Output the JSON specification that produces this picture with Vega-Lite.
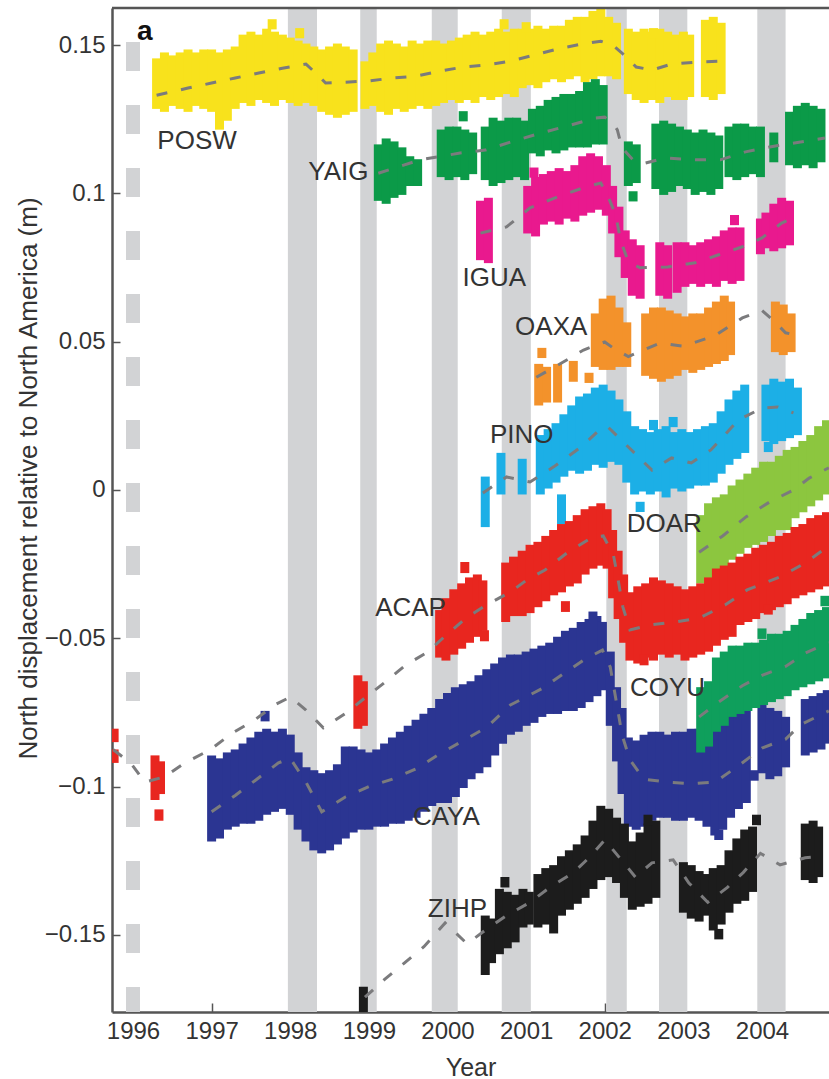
{
  "$schema": "https://vega.github.io/schema/vega-lite/v6.json",
  "width": 717,
  "height": 1004,
  "autosize": {"type": "none"},
  "padding": {"left": 112, "top": 8, "right": 0, "bottom": 67},
  "background": "white",
  "config": {"view": {"stroke": null}, "font": "Liberation Sans"},
  "datasets": {
    "bands": [
      {"start": 1997.97, "end": 1998.34},
      {"start": 1998.89, "end": 1999.10},
      {"start": 1999.80, "end": 2000.13},
      {"start": 2000.69, "end": 2001.06},
      {"start": 2002.02, "end": 2002.28},
      {"start": 2002.69, "end": 2003.05},
      {"start": 2003.94, "end": 2004.30}
    ],
    "cloud": [
      {"s":"POSW","t":1996.30,"lo":0.130,"hi":0.144},{"s":"POSW","t":1996.40,"lo":0.129,"hi":0.146},{"s":"POSW","t":1996.50,"lo":0.131,"hi":0.145},{"s":"POSW","t":1996.60,"lo":0.130,"hi":0.146},{"s":"POSW","t":1996.70,"lo":0.129,"hi":0.147},{"s":"POSW","t":1996.80,"lo":0.131,"hi":0.146},{"s":"POSW","t":1996.90,"lo":0.130,"hi":0.147},{"s":"POSW","t":1997.00,"lo":0.129,"hi":0.147},{"s":"POSW","t":1997.10,"lo":0.123,"hi":0.146},{"s":"POSW","t":1997.20,"lo":0.126,"hi":0.147},{"s":"POSW","t":1997.30,"lo":0.130,"hi":0.148},{"s":"POSW","t":1997.40,"lo":0.132,"hi":0.152},{"s":"POSW","t":1997.50,"lo":0.131,"hi":0.153},{"s":"POSW","t":1997.60,"lo":0.133,"hi":0.152},{"s":"POSW","t":1997.70,"lo":0.132,"hi":0.154},{"s":"POSW","t":1997.80,"lo":0.131,"hi":0.153},{"s":"POSW","t":1997.90,"lo":0.133,"hi":0.152},{"s":"POSW","t":1998.00,"lo":0.132,"hi":0.151},{"s":"POSW","t":1998.10,"lo":0.131,"hi":0.150},{"s":"POSW","t":1998.20,"lo":0.132,"hi":0.149},{"s":"POSW","t":1998.30,"lo":0.131,"hi":0.148},{"s":"POSW","t":1998.40,"lo":0.129,"hi":0.147},{"s":"POSW","t":1998.50,"lo":0.128,"hi":0.148},{"s":"POSW","t":1998.60,"lo":0.127,"hi":0.149},{"s":"POSW","t":1998.70,"lo":0.128,"hi":0.148},{"s":"POSW","t":1998.80,"lo":0.129,"hi":0.147},{"s":"POSW","t":1998.95,"lo":0.130,"hi":0.143},{"s":"POSW","t":1999.05,"lo":0.131,"hi":0.146},{"s":"POSW","t":1999.15,"lo":0.129,"hi":0.149},{"s":"POSW","t":1999.25,"lo":0.128,"hi":0.150},{"s":"POSW","t":1999.35,"lo":0.130,"hi":0.149},{"s":"POSW","t":1999.45,"lo":0.129,"hi":0.148},{"s":"POSW","t":1999.55,"lo":0.130,"hi":0.150},{"s":"POSW","t":1999.65,"lo":0.131,"hi":0.149},{"s":"POSW","t":1999.75,"lo":0.130,"hi":0.150},{"s":"POSW","t":1999.85,"lo":0.131,"hi":0.150},{"s":"POSW","t":1999.95,"lo":0.132,"hi":0.149},{"s":"POSW","t":2000.05,"lo":0.133,"hi":0.150},{"s":"POSW","t":2000.15,"lo":0.132,"hi":0.151},{"s":"POSW","t":2000.25,"lo":0.133,"hi":0.152},{"s":"POSW","t":2000.35,"lo":0.132,"hi":0.153},{"s":"POSW","t":2000.45,"lo":0.134,"hi":0.152},{"s":"POSW","t":2000.55,"lo":0.133,"hi":0.153},{"s":"POSW","t":2000.65,"lo":0.134,"hi":0.154},{"s":"POSW","t":2000.75,"lo":0.135,"hi":0.153},{"s":"POSW","t":2000.85,"lo":0.134,"hi":0.154},{"s":"POSW","t":2000.95,"lo":0.137,"hi":0.154},{"s":"POSW","t":2001.05,"lo":0.138,"hi":0.154},{"s":"POSW","t":2001.15,"lo":0.137,"hi":0.155},{"s":"POSW","t":2001.25,"lo":0.139,"hi":0.154},{"s":"POSW","t":2001.35,"lo":0.140,"hi":0.155},{"s":"POSW","t":2001.45,"lo":0.139,"hi":0.155},{"s":"POSW","t":2001.55,"lo":0.140,"hi":0.157},{"s":"POSW","t":2001.65,"lo":0.141,"hi":0.158},{"s":"POSW","t":2001.75,"lo":0.139,"hi":0.158},{"s":"POSW","t":2001.85,"lo":0.140,"hi":0.160},{"s":"POSW","t":2001.95,"lo":0.141,"hi":0.161},{"s":"POSW","t":2002.05,"lo":0.141,"hi":0.158},{"s":"POSW","t":2002.15,"lo":0.140,"hi":0.156},{"s":"POSW","t":2002.30,"lo":0.135,"hi":0.154},{"s":"POSW","t":2002.40,"lo":0.133,"hi":0.153},{"s":"POSW","t":2002.50,"lo":0.132,"hi":0.154},{"s":"POSW","t":2002.60,"lo":0.133,"hi":0.153},{"s":"POSW","t":2002.70,"lo":0.132,"hi":0.154},{"s":"POSW","t":2002.80,"lo":0.134,"hi":0.153},{"s":"POSW","t":2002.90,"lo":0.133,"hi":0.152},{"s":"POSW","t":2003.00,"lo":0.133,"hi":0.153},{"s":"POSW","t":2003.08,"lo":0.134,"hi":0.152},{"s":"POSW","t":2003.28,"lo":0.134,"hi":0.157},{"s":"POSW","t":2003.38,"lo":0.133,"hi":0.158},{"s":"POSW","t":2003.48,"lo":0.135,"hi":0.156},
      {"s":"POSW","t":1997.77,"lo":0.1568,"hi":0.1572},{"s":"POSW","t":1998.12,"lo":0.1538,"hi":0.1542},{"s":"POSW","t":2000.72,"lo":0.1568,"hi":0.1572},{"s":"POSW","t":2001.00,"lo":0.1558,"hi":0.1562},{"s":"POSW","t":2002.62,"lo":0.1538,"hi":0.1542},
      {"s":"YAIG","t":1999.12,"lo":0.099,"hi":0.115},{"s":"YAIG","t":1999.22,"lo":0.098,"hi":0.117},{"s":"YAIG","t":1999.32,"lo":0.100,"hi":0.116},{"s":"YAIG","t":1999.42,"lo":0.101,"hi":0.114},{"s":"YAIG","t":1999.52,"lo":0.104,"hi":0.111},{"s":"YAIG","t":1999.62,"lo":0.104,"hi":0.110},{"s":"YAIG","t":1999.92,"lo":0.107,"hi":0.120},{"s":"YAIG","t":2000.02,"lo":0.106,"hi":0.121},{"s":"YAIG","t":2000.12,"lo":0.107,"hi":0.121},{"s":"YAIG","t":2000.22,"lo":0.106,"hi":0.120},{"s":"YAIG","t":2000.32,"lo":0.108,"hi":0.119},{"s":"YAIG","t":2000.48,"lo":0.106,"hi":0.121},{"s":"YAIG","t":2000.58,"lo":0.104,"hi":0.124},{"s":"YAIG","t":2000.68,"lo":0.105,"hi":0.123},{"s":"YAIG","t":2000.78,"lo":0.106,"hi":0.124},{"s":"YAIG","t":2000.88,"lo":0.107,"hi":0.124},{"s":"YAIG","t":2000.98,"lo":0.106,"hi":0.123},{"s":"YAIG","t":2001.08,"lo":0.115,"hi":0.127},{"s":"YAIG","t":2001.18,"lo":0.114,"hi":0.128},{"s":"YAIG","t":2001.28,"lo":0.116,"hi":0.130},{"s":"YAIG","t":2001.38,"lo":0.115,"hi":0.131},{"s":"YAIG","t":2001.48,"lo":0.116,"hi":0.132},{"s":"YAIG","t":2001.58,"lo":0.117,"hi":0.132},{"s":"YAIG","t":2001.68,"lo":0.117,"hi":0.133},{"s":"YAIG","t":2001.78,"lo":0.117,"hi":0.136},{"s":"YAIG","t":2001.88,"lo":0.118,"hi":0.137},{"s":"YAIG","t":2001.98,"lo":0.118,"hi":0.135},{"s":"YAIG","t":2002.30,"lo":0.104,"hi":0.116},{"s":"YAIG","t":2002.40,"lo":0.105,"hi":0.115},{"s":"YAIG","t":2002.65,"lo":0.103,"hi":0.122},{"s":"YAIG","t":2002.75,"lo":0.101,"hi":0.123},{"s":"YAIG","t":2002.85,"lo":0.102,"hi":0.122},{"s":"YAIG","t":2002.95,"lo":0.104,"hi":0.121},{"s":"YAIG","t":2003.05,"lo":0.103,"hi":0.120},{"s":"YAIG","t":2003.15,"lo":0.101,"hi":0.119},{"s":"YAIG","t":2003.25,"lo":0.102,"hi":0.120},{"s":"YAIG","t":2003.35,"lo":0.101,"hi":0.119},{"s":"YAIG","t":2003.45,"lo":0.103,"hi":0.118},{"s":"YAIG","t":2003.58,"lo":0.107,"hi":0.121},{"s":"YAIG","t":2003.68,"lo":0.106,"hi":0.122},{"s":"YAIG","t":2003.78,"lo":0.107,"hi":0.122},{"s":"YAIG","t":2003.88,"lo":0.108,"hi":0.121},{"s":"YAIG","t":2003.98,"lo":0.107,"hi":0.121},{"s":"YAIG","t":2004.15,"lo":0.112,"hi":0.119},{"s":"YAIG","t":2004.35,"lo":0.111,"hi":0.126},{"s":"YAIG","t":2004.45,"lo":0.110,"hi":0.128},{"s":"YAIG","t":2004.55,"lo":0.111,"hi":0.129},{"s":"YAIG","t":2004.65,"lo":0.110,"hi":0.128},{"s":"YAIG","t":2004.75,"lo":0.112,"hi":0.127},
      {"s":"YAIG","t":2000.20,"lo":0.1258,"hi":0.1262},{"s":"YAIG","t":2002.36,"lo":0.0988,"hi":0.0992},
      {"s":"IGUA","t":2000.42,"lo":0.079,"hi":0.096},{"s":"IGUA","t":2000.52,"lo":0.078,"hi":0.097},{"s":"IGUA","t":2001.02,"lo":0.088,"hi":0.101},{"s":"IGUA","t":2001.12,"lo":0.087,"hi":0.104},{"s":"IGUA","t":2001.22,"lo":0.091,"hi":0.105},{"s":"IGUA","t":2001.32,"lo":0.092,"hi":0.106},{"s":"IGUA","t":2001.42,"lo":0.091,"hi":0.107},{"s":"IGUA","t":2001.52,"lo":0.093,"hi":0.106},{"s":"IGUA","t":2001.62,"lo":0.092,"hi":0.108},{"s":"IGUA","t":2001.72,"lo":0.094,"hi":0.111},{"s":"IGUA","t":2001.82,"lo":0.095,"hi":0.112},{"s":"IGUA","t":2001.92,"lo":0.096,"hi":0.111},{"s":"IGUA","t":2002.02,"lo":0.094,"hi":0.108},{"s":"IGUA","t":2002.10,"lo":0.088,"hi":0.101},{"s":"IGUA","t":2002.18,"lo":0.080,"hi":0.094},{"s":"IGUA","t":2002.26,"lo":0.073,"hi":0.086},{"s":"IGUA","t":2002.35,"lo":0.067,"hi":0.083},{"s":"IGUA","t":2002.45,"lo":0.066,"hi":0.081},{"s":"IGUA","t":2002.70,"lo":0.067,"hi":0.082},{"s":"IGUA","t":2002.80,"lo":0.066,"hi":0.081},{"s":"IGUA","t":2002.92,"lo":0.068,"hi":0.082},{"s":"IGUA","t":2003.02,"lo":0.070,"hi":0.082},{"s":"IGUA","t":2003.12,"lo":0.071,"hi":0.081},{"s":"IGUA","t":2003.22,"lo":0.070,"hi":0.082},{"s":"IGUA","t":2003.32,"lo":0.071,"hi":0.083},{"s":"IGUA","t":2003.42,"lo":0.070,"hi":0.084},{"s":"IGUA","t":2003.52,"lo":0.072,"hi":0.086},{"s":"IGUA","t":2003.62,"lo":0.071,"hi":0.087},{"s":"IGUA","t":2003.72,"lo":0.072,"hi":0.087},{"s":"IGUA","t":2003.98,"lo":0.081,"hi":0.090},{"s":"IGUA","t":2004.05,"lo":0.083,"hi":0.092},{"s":"IGUA","t":2004.15,"lo":0.082,"hi":0.095},{"s":"IGUA","t":2004.25,"lo":0.083,"hi":0.097},{"s":"IGUA","t":2004.35,"lo":0.084,"hi":0.096},
      {"s":"IGUA","t":2001.10,"lo":0.1068,"hi":0.1072},{"s":"IGUA","t":2003.65,"lo":0.0908,"hi":0.0912},
      {"s":"OAXA","t":2001.16,"lo":0.030,"hi":0.041},{"s":"OAXA","t":2001.26,"lo":0.031,"hi":0.040},{"s":"OAXA","t":2001.40,"lo":0.031,"hi":0.041},{"s":"OAXA","t":2001.60,"lo":0.038,"hi":0.042},{"s":"OAXA","t":2001.20,"lo":0.0460,"hi":0.0464},{"s":"OAXA","t":2001.80,"lo":0.0376,"hi":0.0380},{"s":"OAXA","t":2001.88,"lo":0.043,"hi":0.058},{"s":"OAXA","t":2001.98,"lo":0.042,"hi":0.063},{"s":"OAXA","t":2002.08,"lo":0.042,"hi":0.064},{"s":"OAXA","t":2002.18,"lo":0.043,"hi":0.060},{"s":"OAXA","t":2002.28,"lo":0.043,"hi":0.055},{"s":"OAXA","t":2002.52,"lo":0.040,"hi":0.058},{"s":"OAXA","t":2002.62,"lo":0.039,"hi":0.060},{"s":"OAXA","t":2002.72,"lo":0.038,"hi":0.060},{"s":"OAXA","t":2002.82,"lo":0.039,"hi":0.059},{"s":"OAXA","t":2002.92,"lo":0.040,"hi":0.058},{"s":"OAXA","t":2003.02,"lo":0.042,"hi":0.057},{"s":"OAXA","t":2003.12,"lo":0.041,"hi":0.058},{"s":"OAXA","t":2003.22,"lo":0.042,"hi":0.058},{"s":"OAXA","t":2003.32,"lo":0.043,"hi":0.060},{"s":"OAXA","t":2003.42,"lo":0.044,"hi":0.062},{"s":"OAXA","t":2003.52,"lo":0.045,"hi":0.064},{"s":"OAXA","t":2003.60,"lo":0.047,"hi":0.062},{"s":"OAXA","t":2004.17,"lo":0.048,"hi":0.062},{"s":"OAXA","t":2004.27,"lo":0.047,"hi":0.061},{"s":"OAXA","t":2004.37,"lo":0.048,"hi":0.058},
      {"s":"PINO","t":2000.48,"lo":-0.011,"hi":0.003},{"s":"PINO","t":2000.68,"lo":0.000,"hi":0.011},{"s":"PINO","t":2000.95,"lo":0.000,"hi":0.009},{"s":"PINO","t":2001.18,"lo":0.000,"hi":0.017},{"s":"PINO","t":2001.28,"lo":0.002,"hi":0.019},{"s":"PINO","t":2001.38,"lo":0.004,"hi":0.021},{"s":"PINO","t":2001.45,"lo":-0.010,"hi":-0.003},{"s":"PINO","t":2001.48,"lo":0.006,"hi":0.024},{"s":"PINO","t":2001.58,"lo":0.008,"hi":0.027},{"s":"PINO","t":2001.68,"lo":0.007,"hi":0.030},{"s":"PINO","t":2001.78,"lo":0.008,"hi":0.031},{"s":"PINO","t":2001.88,"lo":0.010,"hi":0.033},{"s":"PINO","t":2001.98,"lo":0.009,"hi":0.034},{"s":"PINO","t":2002.08,"lo":0.011,"hi":0.032},{"s":"PINO","t":2002.18,"lo":0.010,"hi":0.029},{"s":"PINO","t":2002.28,"lo":0.004,"hi":0.025},{"s":"PINO","t":2002.38,"lo":0.000,"hi":0.020},{"s":"PINO","t":2002.48,"lo":0.001,"hi":0.019},{"s":"PINO","t":2002.58,"lo":0.000,"hi":0.018},{"s":"PINO","t":2002.68,"lo":0.001,"hi":0.019},{"s":"PINO","t":2002.78,"lo":-0.001,"hi":0.020},{"s":"PINO","t":2002.88,"lo":0.002,"hi":0.018},{"s":"PINO","t":2002.98,"lo":0.001,"hi":0.019},{"s":"PINO","t":2003.08,"lo":0.002,"hi":0.018},{"s":"PINO","t":2003.18,"lo":0.003,"hi":0.019},{"s":"PINO","t":2003.28,"lo":0.003,"hi":0.020},{"s":"PINO","t":2003.38,"lo":0.004,"hi":0.021},{"s":"PINO","t":2003.48,"lo":0.007,"hi":0.025},{"s":"PINO","t":2003.58,"lo":0.010,"hi":0.029},{"s":"PINO","t":2003.68,"lo":0.012,"hi":0.032},{"s":"PINO","t":2003.78,"lo":0.014,"hi":0.034},{"s":"PINO","t":2004.05,"lo":0.018,"hi":0.034},{"s":"PINO","t":2004.15,"lo":0.017,"hi":0.036},{"s":"PINO","t":2004.25,"lo":0.018,"hi":0.035},{"s":"PINO","t":2004.35,"lo":0.019,"hi":0.036},{"s":"PINO","t":2004.45,"lo":0.020,"hi":0.033},
      {"s":"PINO","t":2002.62,"lo":0.0217,"hi":0.0221},{"s":"PINO","t":2002.87,"lo":0.0227,"hi":0.0231},{"s":"PINO","t":2004.08,"lo":0.0143,"hi":0.0147},{"s":"PINO","t":2002.45,"lo":-0.0059,"hi":-0.0055},
      {"s":"DOAR","t":2003.22,"lo":-0.030,"hi":-0.010},{"s":"DOAR","t":2003.32,"lo":-0.029,"hi":-0.006},{"s":"DOAR","t":2003.42,"lo":-0.027,"hi":-0.004},{"s":"DOAR","t":2003.52,"lo":-0.025,"hi":-0.003},{"s":"DOAR","t":2003.62,"lo":-0.022,"hi":0.000},{"s":"DOAR","t":2003.72,"lo":-0.020,"hi":0.002},{"s":"DOAR","t":2003.82,"lo":-0.018,"hi":0.004},{"s":"DOAR","t":2003.92,"lo":-0.017,"hi":0.006},{"s":"DOAR","t":2004.02,"lo":-0.016,"hi":0.008},{"s":"DOAR","t":2004.12,"lo":-0.014,"hi":0.008},{"s":"DOAR","t":2004.22,"lo":-0.012,"hi":0.010},{"s":"DOAR","t":2004.32,"lo":-0.012,"hi":0.012},{"s":"DOAR","t":2004.42,"lo":-0.008,"hi":0.013},{"s":"DOAR","t":2004.52,"lo":-0.006,"hi":0.015},{"s":"DOAR","t":2004.62,"lo":-0.004,"hi":0.017},{"s":"DOAR","t":2004.72,"lo":-0.002,"hi":0.020},{"s":"DOAR","t":2004.82,"lo":0.000,"hi":0.022},
      {"s":"ACAP","t":1995.76,"lo":-0.0835,"hi":-0.0820},{"s":"ACAP","t":1995.76,"lo":-0.0905,"hi":-0.0890},{"s":"ACAP","t":1996.28,"lo":-0.103,"hi":-0.091},{"s":"ACAP","t":1996.35,"lo":-0.101,"hi":-0.093},{"s":"ACAP","t":1996.33,"lo":-0.1100,"hi":-0.1092},{"s":"ACAP","t":1998.86,"lo":-0.079,"hi":-0.064},{"s":"ACAP","t":1998.93,"lo":-0.078,"hi":-0.066},{"s":"ACAP","t":1999.90,"lo":-0.055,"hi":-0.042},{"s":"ACAP","t":1999.98,"lo":-0.056,"hi":-0.038},{"s":"ACAP","t":2000.08,"lo":-0.054,"hi":-0.035},{"s":"ACAP","t":2000.18,"lo":-0.052,"hi":-0.033},{"s":"ACAP","t":2000.28,"lo":-0.050,"hi":-0.031},{"s":"ACAP","t":2000.38,"lo":-0.048,"hi":-0.030},{"s":"ACAP","t":2000.45,"lo":-0.046,"hi":-0.032},{"s":"ACAP","t":2000.22,"lo":-0.0265,"hi":-0.0258},{"s":"ACAP","t":2000.47,"lo":-0.0495,"hi":-0.0488},{"s":"ACAP","t":2000.74,"lo":-0.043,"hi":-0.026},{"s":"ACAP","t":2000.84,"lo":-0.041,"hi":-0.024},{"s":"ACAP","t":2000.95,"lo":-0.041,"hi":-0.022},{"s":"ACAP","t":2001.05,"lo":-0.040,"hi":-0.020},{"s":"ACAP","t":2001.15,"lo":-0.038,"hi":-0.019},{"s":"ACAP","t":2001.25,"lo":-0.036,"hi":-0.017},{"s":"ACAP","t":2001.35,"lo":-0.034,"hi":-0.015},{"s":"ACAP","t":2001.45,"lo":-0.033,"hi":-0.013},{"s":"ACAP","t":2001.55,"lo":-0.031,"hi":-0.012},{"s":"ACAP","t":2001.65,"lo":-0.030,"hi":-0.010},{"s":"ACAP","t":2001.75,"lo":-0.027,"hi":-0.008},{"s":"ACAP","t":2001.85,"lo":-0.025,"hi":-0.007},{"s":"ACAP","t":2001.95,"lo":-0.024,"hi":-0.006},{"s":"ACAP","t":2002.03,"lo":-0.025,"hi":-0.008},{"s":"ACAP","t":2001.50,"lo":-0.0396,"hi":-0.0390},{"s":"ACAP","t":2002.10,"lo":-0.035,"hi":-0.015},{"s":"ACAP","t":2002.17,"lo":-0.042,"hi":-0.022},{"s":"ACAP","t":2002.24,"lo":-0.050,"hi":-0.030},{"s":"ACAP","t":2002.32,"lo":-0.056,"hi":-0.036},{"s":"ACAP","t":2002.42,"lo":-0.057,"hi":-0.034},{"s":"ACAP","t":2002.52,"lo":-0.055,"hi":-0.033},{"s":"ACAP","t":2002.62,"lo":-0.056,"hi":-0.031},{"s":"ACAP","t":2002.72,"lo":-0.054,"hi":-0.032},{"s":"ACAP","t":2002.82,"lo":-0.055,"hi":-0.033},{"s":"ACAP","t":2002.92,"lo":-0.054,"hi":-0.034},{"s":"ACAP","t":2003.02,"lo":-0.056,"hi":-0.035},{"s":"ACAP","t":2003.12,"lo":-0.055,"hi":-0.034},{"s":"ACAP","t":2003.22,"lo":-0.054,"hi":-0.033},{"s":"ACAP","t":2003.32,"lo":-0.053,"hi":-0.031},{"s":"ACAP","t":2003.42,"lo":-0.051,"hi":-0.028},{"s":"ACAP","t":2003.52,"lo":-0.049,"hi":-0.027},{"s":"ACAP","t":2003.62,"lo":-0.048,"hi":-0.026},{"s":"ACAP","t":2003.72,"lo":-0.044,"hi":-0.024},{"s":"ACAP","t":2003.82,"lo":-0.043,"hi":-0.023},{"s":"ACAP","t":2003.92,"lo":-0.042,"hi":-0.021},{"s":"ACAP","t":2004.02,"lo":-0.040,"hi":-0.020},{"s":"ACAP","t":2004.12,"lo":-0.039,"hi":-0.019},{"s":"ACAP","t":2004.22,"lo":-0.038,"hi":-0.017},{"s":"ACAP","t":2004.32,"lo":-0.037,"hi":-0.016},{"s":"ACAP","t":2004.42,"lo":-0.035,"hi":-0.014},{"s":"ACAP","t":2004.52,"lo":-0.034,"hi":-0.013},{"s":"ACAP","t":2004.62,"lo":-0.033,"hi":-0.011},{"s":"ACAP","t":2004.72,"lo":-0.032,"hi":-0.010},{"s":"ACAP","t":2004.82,"lo":-0.031,"hi":-0.009},{"s":"ACAP","t":2002.50,"lo":-0.0576,"hi":-0.0570},{"s":"ACAP","t":2004.08,"lo":-0.0405,"hi":-0.0400},
      {"s":"CAYA","t":1997.00,"lo":-0.117,"hi":-0.091},{"s":"CAYA","t":1997.10,"lo":-0.116,"hi":-0.092},{"s":"CAYA","t":1997.20,"lo":-0.113,"hi":-0.090},{"s":"CAYA","t":1997.30,"lo":-0.112,"hi":-0.089},{"s":"CAYA","t":1997.40,"lo":-0.111,"hi":-0.087},{"s":"CAYA","t":1997.50,"lo":-0.111,"hi":-0.085},{"s":"CAYA","t":1997.60,"lo":-0.110,"hi":-0.083},{"s":"CAYA","t":1997.70,"lo":-0.108,"hi":-0.082},{"s":"CAYA","t":1997.80,"lo":-0.107,"hi":-0.083},{"s":"CAYA","t":1997.90,"lo":-0.106,"hi":-0.082},{"s":"CAYA","t":1998.00,"lo":-0.108,"hi":-0.084},{"s":"CAYA","t":1998.10,"lo":-0.113,"hi":-0.090},{"s":"CAYA","t":1998.20,"lo":-0.117,"hi":-0.095},{"s":"CAYA","t":1998.30,"lo":-0.120,"hi":-0.096},{"s":"CAYA","t":1998.40,"lo":-0.121,"hi":-0.097},{"s":"CAYA","t":1998.50,"lo":-0.120,"hi":-0.096},{"s":"CAYA","t":1998.60,"lo":-0.118,"hi":-0.094},{"s":"CAYA","t":1998.70,"lo":-0.116,"hi":-0.088},{"s":"CAYA","t":1998.80,"lo":-0.114,"hi":-0.088},{"s":"CAYA","t":1998.90,"lo":-0.113,"hi":-0.089},{"s":"CAYA","t":1999.00,"lo":-0.113,"hi":-0.090},{"s":"CAYA","t":1999.10,"lo":-0.112,"hi":-0.089},{"s":"CAYA","t":1999.20,"lo":-0.112,"hi":-0.087},{"s":"CAYA","t":1999.30,"lo":-0.111,"hi":-0.085},{"s":"CAYA","t":1999.40,"lo":-0.111,"hi":-0.083},{"s":"CAYA","t":1999.50,"lo":-0.110,"hi":-0.081},{"s":"CAYA","t":1999.60,"lo":-0.109,"hi":-0.079},{"s":"CAYA","t":1999.70,"lo":-0.107,"hi":-0.077},{"s":"CAYA","t":1999.80,"lo":-0.105,"hi":-0.075},{"s":"CAYA","t":1999.90,"lo":-0.104,"hi":-0.072},{"s":"CAYA","t":2000.00,"lo":-0.104,"hi":-0.070},{"s":"CAYA","t":2000.10,"lo":-0.102,"hi":-0.068},{"s":"CAYA","t":2000.20,"lo":-0.099,"hi":-0.067},{"s":"CAYA","t":2000.30,"lo":-0.096,"hi":-0.066},{"s":"CAYA","t":2000.40,"lo":-0.094,"hi":-0.064},{"s":"CAYA","t":2000.50,"lo":-0.092,"hi":-0.062},{"s":"CAYA","t":2000.60,"lo":-0.088,"hi":-0.060},{"s":"CAYA","t":2000.70,"lo":-0.084,"hi":-0.058},{"s":"CAYA","t":2000.80,"lo":-0.081,"hi":-0.057},{"s":"CAYA","t":2000.90,"lo":-0.080,"hi":-0.057},{"s":"CAYA","t":2001.00,"lo":-0.078,"hi":-0.056},{"s":"CAYA","t":2001.10,"lo":-0.077,"hi":-0.055},{"s":"CAYA","t":2001.20,"lo":-0.075,"hi":-0.054},{"s":"CAYA","t":2001.30,"lo":-0.074,"hi":-0.053},{"s":"CAYA","t":2001.40,"lo":-0.074,"hi":-0.051},{"s":"CAYA","t":2001.50,"lo":-0.073,"hi":-0.049},{"s":"CAYA","t":2001.60,"lo":-0.073,"hi":-0.048},{"s":"CAYA","t":2001.70,"lo":-0.072,"hi":-0.046},{"s":"CAYA","t":2001.80,"lo":-0.070,"hi":-0.045},{"s":"CAYA","t":2001.90,"lo":-0.068,"hi":-0.044},{"s":"CAYA","t":2001.97,"lo":-0.066,"hi":-0.046},{"s":"CAYA","t":2001.85,"lo":-0.0430,"hi":-0.0425},{"s":"CAYA","t":2002.07,"lo":-0.078,"hi":-0.056},{"s":"CAYA","t":2002.15,"lo":-0.090,"hi":-0.068},{"s":"CAYA","t":2002.22,"lo":-0.101,"hi":-0.075},{"s":"CAYA","t":2002.30,"lo":-0.112,"hi":-0.085},{"s":"CAYA","t":2002.40,"lo":-0.113,"hi":-0.086},{"s":"CAYA","t":2002.50,"lo":-0.112,"hi":-0.084},{"s":"CAYA","t":2002.60,"lo":-0.110,"hi":-0.083},{"s":"CAYA","t":2002.70,"lo":-0.109,"hi":-0.083},{"s":"CAYA","t":2002.80,"lo":-0.109,"hi":-0.084},{"s":"CAYA","t":2002.90,"lo":-0.110,"hi":-0.083},{"s":"CAYA","t":2003.00,"lo":-0.110,"hi":-0.083},{"s":"CAYA","t":2003.10,"lo":-0.109,"hi":-0.082},{"s":"CAYA","t":2003.20,"lo":-0.110,"hi":-0.082},{"s":"CAYA","t":2003.30,"lo":-0.112,"hi":-0.080},{"s":"CAYA","t":2003.40,"lo":-0.115,"hi":-0.079},{"s":"CAYA","t":2003.50,"lo":-0.113,"hi":-0.078},{"s":"CAYA","t":2003.60,"lo":-0.109,"hi":-0.076},{"s":"CAYA","t":2003.70,"lo":-0.106,"hi":-0.075},{"s":"CAYA","t":2003.80,"lo":-0.104,"hi":-0.074},{"s":"CAYA","t":2003.45,"lo":-0.1165,"hi":-0.1160},{"s":"CAYA","t":2004.00,"lo":-0.094,"hi":-0.074},{"s":"CAYA","t":2004.10,"lo":-0.096,"hi":-0.075},{"s":"CAYA","t":2004.20,"lo":-0.095,"hi":-0.076},{"s":"CAYA","t":2004.30,"lo":-0.092,"hi":-0.078},{"s":"CAYA","t":2003.90,"lo":-0.0965,"hi":-0.0960},{"s":"CAYA","t":2004.55,"lo":-0.088,"hi":-0.072},{"s":"CAYA","t":2004.65,"lo":-0.087,"hi":-0.071},{"s":"CAYA","t":2004.75,"lo":-0.086,"hi":-0.070},{"s":"CAYA","t":2004.83,"lo":-0.084,"hi":-0.069},{"s":"CAYA","t":1997.68,"lo":-0.0765,"hi":-0.0760},
      {"s":"COYU","t":2003.22,"lo":-0.087,"hi":-0.068},{"s":"COYU","t":2003.32,"lo":-0.085,"hi":-0.066},{"s":"COYU","t":2003.42,"lo":-0.080,"hi":-0.058},{"s":"COYU","t":2003.52,"lo":-0.078,"hi":-0.056},{"s":"COYU","t":2003.62,"lo":-0.075,"hi":-0.054},{"s":"COYU","t":2003.72,"lo":-0.074,"hi":-0.054},{"s":"COYU","t":2003.82,"lo":-0.073,"hi":-0.053},{"s":"COYU","t":2003.92,"lo":-0.072,"hi":-0.053},{"s":"COYU","t":2004.02,"lo":-0.071,"hi":-0.052},{"s":"COYU","t":2004.12,"lo":-0.070,"hi":-0.050},{"s":"COYU","t":2004.22,"lo":-0.069,"hi":-0.050},{"s":"COYU","t":2004.32,"lo":-0.068,"hi":-0.049},{"s":"COYU","t":2004.42,"lo":-0.066,"hi":-0.047},{"s":"COYU","t":2004.52,"lo":-0.065,"hi":-0.045},{"s":"COYU","t":2004.62,"lo":-0.064,"hi":-0.043},{"s":"COYU","t":2004.72,"lo":-0.063,"hi":-0.042},{"s":"COYU","t":2004.82,"lo":-0.062,"hi":-0.041},{"s":"COYU","t":2004.00,"lo":-0.0487,"hi":-0.0482},{"s":"COYU","t":2004.80,"lo":-0.0377,"hi":-0.0372},
      {"s":"ZIHP","t":1998.93,"lo":-0.1745,"hi":-0.169},{"s":"ZIHP","t":2000.48,"lo":-0.162,"hi":-0.145},{"s":"ZIHP","t":2000.56,"lo":-0.158,"hi":-0.146},{"s":"ZIHP","t":2000.66,"lo":-0.155,"hi":-0.136},{"s":"ZIHP","t":2000.76,"lo":-0.153,"hi":-0.137},{"s":"ZIHP","t":2000.86,"lo":-0.151,"hi":-0.138},{"s":"ZIHP","t":2000.73,"lo":-0.1325,"hi":-0.1320},{"s":"ZIHP","t":2000.96,"lo":-0.146,"hi":-0.136},{"s":"ZIHP","t":2001.04,"lo":-0.145,"hi":-0.137},{"s":"ZIHP","t":2001.15,"lo":-0.146,"hi":-0.131},{"s":"ZIHP","t":2001.25,"lo":-0.145,"hi":-0.129},{"s":"ZIHP","t":2001.35,"lo":-0.148,"hi":-0.128},{"s":"ZIHP","t":2001.45,"lo":-0.142,"hi":-0.125},{"s":"ZIHP","t":2001.55,"lo":-0.140,"hi":-0.123},{"s":"ZIHP","t":2001.65,"lo":-0.138,"hi":-0.121},{"s":"ZIHP","t":2001.75,"lo":-0.136,"hi":-0.118},{"s":"ZIHP","t":2001.85,"lo":-0.133,"hi":-0.113},{"s":"ZIHP","t":2001.95,"lo":-0.130,"hi":-0.108},{"s":"ZIHP","t":2002.05,"lo":-0.129,"hi":-0.109},{"s":"ZIHP","t":2002.15,"lo":-0.131,"hi":-0.112},{"s":"ZIHP","t":2002.25,"lo":-0.136,"hi":-0.114},{"s":"ZIHP","t":2002.35,"lo":-0.140,"hi":-0.120},{"s":"ZIHP","t":2002.45,"lo":-0.139,"hi":-0.117},{"s":"ZIHP","t":2002.55,"lo":-0.138,"hi":-0.114},{"s":"ZIHP","t":2002.65,"lo":-0.136,"hi":-0.113},{"s":"ZIHP","t":2002.55,"lo":-0.1115,"hi":-0.1110},{"s":"ZIHP","t":2003.00,"lo":-0.141,"hi":-0.127},{"s":"ZIHP","t":2003.10,"lo":-0.143,"hi":-0.128},{"s":"ZIHP","t":2003.20,"lo":-0.144,"hi":-0.130},{"s":"ZIHP","t":2003.28,"lo":-0.142,"hi":-0.131},{"s":"ZIHP","t":2003.38,"lo":-0.147,"hi":-0.129},{"s":"ZIHP","t":2003.48,"lo":-0.145,"hi":-0.128},{"s":"ZIHP","t":2003.58,"lo":-0.141,"hi":-0.123},{"s":"ZIHP","t":2003.68,"lo":-0.138,"hi":-0.119},{"s":"ZIHP","t":2003.78,"lo":-0.137,"hi":-0.116},{"s":"ZIHP","t":2003.88,"lo":-0.134,"hi":-0.115},{"s":"ZIHP","t":2003.93,"lo":-0.1115,"hi":-0.1110},{"s":"ZIHP","t":2003.45,"lo":-0.1500,"hi":-0.1495},{"s":"ZIHP","t":2004.55,"lo":-0.130,"hi":-0.114},{"s":"ZIHP","t":2004.65,"lo":-0.131,"hi":-0.113},{"s":"ZIHP","t":2004.72,"lo":-0.129,"hi":-0.115}
    ],
    "model": [
      {"s":"POSW","t":1996.3,"v":0.1331},{"s":"POSW","t":1996.7,"v":0.1355},{"s":"POSW","t":1997.0,"v":0.1372},{"s":"POSW","t":1997.3,"v":0.1389},{"s":"POSW","t":1997.6,"v":0.1406},{"s":"POSW","t":1997.9,"v":0.1422},{"s":"POSW","t":1998.2,"v":0.1436},{"s":"POSW","t":1998.35,"v":0.1399},{"s":"POSW","t":1998.45,"v":0.1372},{"s":"POSW","t":1998.7,"v":0.1375},{"s":"POSW","t":1999.0,"v":0.1379},{"s":"POSW","t":1999.3,"v":0.1389},{"s":"POSW","t":1999.6,"v":0.1395},{"s":"POSW","t":1999.9,"v":0.1412},{"s":"POSW","t":2000.2,"v":0.1426},{"s":"POSW","t":2000.5,"v":0.1433},{"s":"POSW","t":2000.8,"v":0.1446},{"s":"POSW","t":2001.1,"v":0.1466},{"s":"POSW","t":2001.4,"v":0.1487},{"s":"POSW","t":2001.7,"v":0.1503},{"s":"POSW","t":2001.95,"v":0.1513},{"s":"POSW","t":2002.1,"v":0.15},{"s":"POSW","t":2002.25,"v":0.1466},{"s":"POSW","t":2002.4,"v":0.1426},{"s":"POSW","t":2002.6,"v":0.1416},{"s":"POSW","t":2002.85,"v":0.1436},{"s":"POSW","t":2003.2,"v":0.1443},{"s":"POSW","t":2003.45,"v":0.1446},
      {"s":"YAIG","t":1999.12,"v":0.1068},{"s":"YAIG","t":1999.65,"v":0.1113},{"s":"YAIG","t":2000.16,"v":0.1136},{"s":"YAIG","t":2000.48,"v":0.1146},{"s":"YAIG","t":2000.8,"v":0.1173},{"s":"YAIG","t":2001.18,"v":0.1203},{"s":"YAIG","t":2001.56,"v":0.123},{"s":"YAIG","t":2001.88,"v":0.1254},{"s":"YAIG","t":2002.0,"v":0.1257},{"s":"YAIG","t":2002.09,"v":0.124},{"s":"YAIG","t":2002.16,"v":0.1214},{"s":"YAIG","t":2002.22,"v":0.1153},{"s":"YAIG","t":2002.36,"v":0.1113},{"s":"YAIG","t":2002.51,"v":0.1102},{"s":"YAIG","t":2002.77,"v":0.1119},{"s":"YAIG","t":2003.15,"v":0.1113},{"s":"YAIG","t":2003.47,"v":0.1113},{"s":"YAIG","t":2003.79,"v":0.114},{"s":"YAIG","t":2004.17,"v":0.116},{"s":"YAIG","t":2004.49,"v":0.1173},{"s":"YAIG","t":2004.8,"v":0.1187},
      {"s":"IGUA","t":2000.42,"v":0.0866},{"s":"IGUA","t":2000.75,"v":0.0887},{"s":"IGUA","t":2001.05,"v":0.0951},{"s":"IGUA","t":2001.4,"v":0.0988},{"s":"IGUA","t":2001.75,"v":0.1021},{"s":"IGUA","t":2001.95,"v":0.1035},{"s":"IGUA","t":2002.06,"v":0.0978},{"s":"IGUA","t":2002.14,"v":0.0927},{"s":"IGUA","t":2002.2,"v":0.0843},{"s":"IGUA","t":2002.3,"v":0.0769},{"s":"IGUA","t":2002.45,"v":0.0749},{"s":"IGUA","t":2002.8,"v":0.0752},{"s":"IGUA","t":2003.15,"v":0.0766},{"s":"IGUA","t":2003.45,"v":0.0793},{"s":"IGUA","t":2003.75,"v":0.082},{"s":"IGUA","t":2004.0,"v":0.085},{"s":"IGUA","t":2004.25,"v":0.09},{"s":"IGUA","t":2004.38,"v":0.0915},
      {"s":"OAXA","t":2001.13,"v":0.038},{"s":"OAXA","t":2001.45,"v":0.0428},{"s":"OAXA","t":2001.73,"v":0.0472},{"s":"OAXA","t":2002.0,"v":0.0499},{"s":"OAXA","t":2002.1,"v":0.048},{"s":"OAXA","t":2002.3,"v":0.045},{"s":"OAXA","t":2002.7,"v":0.0495},{"s":"OAXA","t":2003.0,"v":0.0485},{"s":"OAXA","t":2003.4,"v":0.052},{"s":"OAXA","t":2003.75,"v":0.058},{"s":"OAXA","t":2004.0,"v":0.0605},{"s":"OAXA","t":2004.15,"v":0.057},{"s":"OAXA","t":2004.3,"v":0.053},{"s":"OAXA","t":2004.38,"v":0.0525},
      {"s":"PINO","t":2000.45,"v":-0.001},{"s":"PINO","t":2000.75,"v":0.0044},{"s":"PINO","t":2001.05,"v":0.0027},{"s":"PINO","t":2001.35,"v":0.0078},{"s":"PINO","t":2001.7,"v":0.0145},{"s":"PINO","t":2001.97,"v":0.0212},{"s":"PINO","t":2002.05,"v":0.021},{"s":"PINO","t":2002.3,"v":0.0145},{"s":"PINO","t":2002.6,"v":0.0067},{"s":"PINO","t":2002.85,"v":0.0108},{"s":"PINO","t":2003.1,"v":0.0091},{"s":"PINO","t":2003.35,"v":0.0135},{"s":"PINO","t":2003.7,"v":0.0236},{"s":"PINO","t":2004.0,"v":0.0276},{"s":"PINO","t":2004.2,"v":0.028},{"s":"PINO","t":2004.4,"v":0.026},
      {"s":"DOAR","t":2003.2,"v":-0.021},{"s":"DOAR","t":2003.5,"v":-0.0155},{"s":"DOAR","t":2003.8,"v":-0.009},{"s":"DOAR","t":2004.1,"v":-0.004},{"s":"DOAR","t":2004.4,"v":0.0},{"s":"DOAR","t":2004.6,"v":0.004},{"s":"DOAR","t":2004.85,"v":0.0075},
      {"s":"ACAP","t":1995.75,"v":-0.0876},{"s":"ACAP","t":1995.97,"v":-0.092},{"s":"ACAP","t":1996.15,"v":-0.0985},{"s":"ACAP","t":1996.4,"v":-0.0967},{"s":"ACAP","t":1996.66,"v":-0.092},{"s":"ACAP","t":1996.98,"v":-0.0876},{"s":"ACAP","t":1997.26,"v":-0.082},{"s":"ACAP","t":1997.55,"v":-0.0775},{"s":"ACAP","t":1997.8,"v":-0.0725},{"s":"ACAP","t":1998.0,"v":-0.0698},{"s":"ACAP","t":1998.2,"v":-0.0742},{"s":"ACAP","t":1998.42,"v":-0.0802},{"s":"ACAP","t":1998.71,"v":-0.0752},{"s":"ACAP","t":1998.95,"v":-0.0701},{"s":"ACAP","t":1999.21,"v":-0.0647},{"s":"ACAP","t":1999.47,"v":-0.059},{"s":"ACAP","t":1999.75,"v":-0.0546},{"s":"ACAP","t":1999.98,"v":-0.049},{"s":"ACAP","t":2000.24,"v":-0.0431},{"s":"ACAP","t":2000.49,"v":-0.0388},{"s":"ACAP","t":2000.8,"v":-0.0344},{"s":"ACAP","t":2001.01,"v":-0.0303},{"s":"ACAP","t":2001.24,"v":-0.027},{"s":"ACAP","t":2001.52,"v":-0.0212},{"s":"ACAP","t":2001.85,"v":-0.0158},{"s":"ACAP","t":2001.98,"v":-0.0155},{"s":"ACAP","t":2002.11,"v":-0.0219},{"s":"ACAP","t":2002.17,"v":-0.0303},{"s":"ACAP","t":2002.23,"v":-0.0394},{"s":"ACAP","t":2002.32,"v":-0.0472},{"s":"ACAP","t":2002.58,"v":-0.0455},{"s":"ACAP","t":2002.9,"v":-0.0445},{"s":"ACAP","t":2003.21,"v":-0.0431},{"s":"ACAP","t":2003.53,"v":-0.0388},{"s":"ACAP","t":2003.81,"v":-0.0337},{"s":"ACAP","t":2004.23,"v":-0.0293},{"s":"ACAP","t":2004.55,"v":-0.0246},{"s":"ACAP","t":2004.78,"v":-0.0202},
      {"s":"CAYA","t":1997.0,"v":-0.1085},{"s":"CAYA","t":1997.3,"v":-0.103},{"s":"CAYA","t":1997.6,"v":-0.097},{"s":"CAYA","t":1997.85,"v":-0.092},{"s":"CAYA","t":1998.0,"v":-0.0905},{"s":"CAYA","t":1998.2,"v":-0.0985},{"s":"CAYA","t":1998.4,"v":-0.1085},{"s":"CAYA","t":1998.7,"v":-0.1035},{"s":"CAYA","t":1999.0,"v":-0.1},{"s":"CAYA","t":1999.3,"v":-0.0975},{"s":"CAYA","t":1999.6,"v":-0.094},{"s":"CAYA","t":1999.9,"v":-0.089},{"s":"CAYA","t":2000.2,"v":-0.0845},{"s":"CAYA","t":2000.5,"v":-0.08},{"s":"CAYA","t":2000.8,"v":-0.0725},{"s":"CAYA","t":2001.2,"v":-0.067},{"s":"CAYA","t":2001.5,"v":-0.0615},{"s":"CAYA","t":2001.75,"v":-0.057},{"s":"CAYA","t":2001.97,"v":-0.054},{"s":"CAYA","t":2002.07,"v":-0.0597},{"s":"CAYA","t":2002.15,"v":-0.0718},{"s":"CAYA","t":2002.22,"v":-0.0826},{"s":"CAYA","t":2002.32,"v":-0.091},{"s":"CAYA","t":2002.5,"v":-0.0975},{"s":"CAYA","t":2002.8,"v":-0.0985},{"s":"CAYA","t":2003.1,"v":-0.099},{"s":"CAYA","t":2003.4,"v":-0.0985},{"s":"CAYA","t":2003.7,"v":-0.093},{"s":"CAYA","t":2004.0,"v":-0.087},{"s":"CAYA","t":2004.3,"v":-0.084},{"s":"CAYA","t":2004.5,"v":-0.079},{"s":"CAYA","t":2004.85,"v":-0.0745},
      {"s":"COYU","t":2003.2,"v":-0.0765},{"s":"COYU","t":2003.45,"v":-0.0715},{"s":"COYU","t":2003.75,"v":-0.066},{"s":"COYU","t":2004.0,"v":-0.0625},{"s":"COYU","t":2004.3,"v":-0.0595},{"s":"COYU","t":2004.55,"v":-0.055},{"s":"COYU","t":2004.85,"v":-0.0515},
      {"s":"ZIHP","t":1998.95,"v":-0.171},{"s":"ZIHP","t":1999.2,"v":-0.165},{"s":"ZIHP","t":1999.45,"v":-0.1595},{"s":"ZIHP","t":1999.7,"v":-0.154},{"s":"ZIHP","t":1999.97,"v":-0.146},{"s":"ZIHP","t":2000.25,"v":-0.153},{"s":"ZIHP","t":2000.5,"v":-0.148},{"s":"ZIHP","t":2000.75,"v":-0.1435},{"s":"ZIHP","t":2001.05,"v":-0.139},{"s":"ZIHP","t":2001.3,"v":-0.134},{"s":"ZIHP","t":2001.6,"v":-0.129},{"s":"ZIHP","t":2001.8,"v":-0.124},{"s":"ZIHP","t":2002.0,"v":-0.118},{"s":"ZIHP","t":2002.22,"v":-0.125},{"s":"ZIHP","t":2002.39,"v":-0.1305},{"s":"ZIHP","t":2002.6,"v":-0.1257},{"s":"ZIHP","t":2002.87,"v":-0.1247},{"s":"ZIHP","t":2003.07,"v":-0.1325},{"s":"ZIHP","t":2003.31,"v":-0.139},{"s":"ZIHP","t":2003.56,"v":-0.134},{"s":"ZIHP","t":2003.76,"v":-0.129},{"s":"ZIHP","t":2003.98,"v":-0.1225},{"s":"ZIHP","t":2004.23,"v":-0.1264},{"s":"ZIHP","t":2004.55,"v":-0.124},{"s":"ZIHP","t":2004.75,"v":-0.1235}
    ],
    "labels": [
      {"name":"POSW","t":1996.31,"v":0.1177},
      {"name":"YAIG","t":1998.23,"v":0.1072},
      {"name":"IGUA","t":2000.19,"v":0.0715},
      {"name":"OAXA","t":2000.86,"v":0.055},
      {"name":"PINO","t":2000.54,"v":0.0185},
      {"name":"DOAR","t":2002.28,"v":-0.0114},
      {"name":"ACAP","t":1999.08,"v":-0.0397},
      {"name":"COYU","t":2002.32,"v":-0.0667},
      {"name":"CAYA","t":1999.56,"v":-0.1101},
      {"name":"ZIHP","t":1999.75,"v":-0.1412}
    ]
  },
  "layer": [
    {
      "data": {"name": "bands"},
      "mark": {"type": "rect", "color": "#d2d3d5"},
      "encoding": {
        "x": {"field": "start", "type": "quantitative", "scale": {"domain": [1995.733, 2004.852], "nice": false, "zero": false},
          "axis": {"values": [1996, 1997, 1998, 1999, 2000, 2001, 2002, 2003, 2004], "format": "d", "title": "Year",
            "grid": false, "labelFontSize": 24, "labelColor": "#333", "labelFont": "Liberation Sans",
            "titleFontSize": 25, "titleFontWeight": "normal", "titleColor": "#333", "titleFont": "Liberation Sans", "titlePadding": 12,
            "tickSize": -9, "tickColor": "#555", "tickWidth": 1.5, "domainColor": "#555", "domainWidth": 2.5,
            "labelPadding": 16, "labelFlush": false, "labelOverlap": false}},
        "x2": {"field": "end"}
      }
    },
    {
      "data": {"values": [{"t": 1996}]},
      "mark": {"type": "rule", "color": "#d2d3d5", "strokeWidth": 14, "strokeDash": [29, 34], "strokeDashOffset": 29},
      "encoding": {
        "x": {"field": "t", "type": "quantitative", "scale": {"domain": [1995.733, 2004.852], "nice": false, "zero": false}, "title": "Year"}
      }
    },
    {
      "data": {"name": "cloud"},
      "mark": {"type": "rule", "strokeWidth": 9, "strokeCap": "square", "clip": true},
      "encoding": {
        "x": {"field": "t", "type": "quantitative", "scale": {"domain": [1995.733, 2004.852], "nice": false, "zero": false}, "title": "Year"},
        "y": {"field": "lo", "type": "quantitative",
          "scale": {"domain": [-0.176, 0.1625], "nice": false, "zero": false},
          "axis": {"values": [-0.15, -0.1, -0.05, 0, 0.05, 0.1, 0.15], "format": "~g", "title": "North displacement relative to North America (m)",
            "grid": false, "labelFontSize": 24, "labelColor": "#333", "labelFont": "Liberation Sans",
            "titleFontSize": 26, "titleFontWeight": "normal", "titleColor": "#333", "titleFont": "Liberation Sans",
            "titleX": -76, "titleY": 470, "titleBaseline": "alphabetic",
            "tickSize": -8, "tickColor": "#555", "tickWidth": 1.5, "domainColor": "#555", "domainWidth": 2.5,
            "labelPadding": 15, "labelFlush": false, "labelOverlap": false}},
        "y2": {"field": "hi"},
        "color": {"field": "s", "type": "nominal", "legend": null,
          "scale": {"domain": ["POSW", "YAIG", "IGUA", "OAXA", "PINO", "DOAR", "ACAP", "COYU", "CAYA", "ZIHP"],
                    "range": ["#f8e21c", "#0b9a48", "#e9198e", "#f3922b", "#1cafe6", "#8cc63f", "#e8261f", "#0f9f5c", "#2b3592", "#1c1c1c"]}}
      }
    },
    {
      "data": {"name": "model"},
      "mark": {"type": "line", "color": "#7b7b7d", "strokeWidth": 3, "strokeDash": [11, 14], "clip": true},
      "encoding": {
        "x": {"field": "t", "type": "quantitative", "scale": {"domain": [1995.733, 2004.852], "nice": false, "zero": false}, "title": "Year"},
        "y": {"field": "v", "type": "quantitative", "scale": {"domain": [-0.176, 0.1625], "nice": false, "zero": false}, "title": "North displacement relative to North America (m)"},
        "detail": {"field": "s", "type": "nominal"}
      }
    },
    {
      "data": {"name": "labels"},
      "mark": {"type": "text", "align": "left", "baseline": "middle", "fontSize": 26, "font": "Liberation Sans", "color": "#333"},
      "encoding": {
        "x": {"field": "t", "type": "quantitative", "scale": {"domain": [1995.733, 2004.852], "nice": false, "zero": false}, "title": "Year"},
        "y": {"field": "v", "type": "quantitative", "scale": {"domain": [-0.176, 0.1625], "nice": false, "zero": false}, "title": "North displacement relative to North America (m)"},
        "text": {"field": "name"}
      }
    },
    {
      "data": {"values": [{"t": 1996.05, "v": 0.1544, "name": "a"}]},
      "mark": {"type": "text", "align": "left", "baseline": "middle", "fontSize": 28, "fontWeight": "bold", "font": "Liberation Sans", "color": "#111"},
      "encoding": {
        "x": {"field": "t", "type": "quantitative", "scale": {"domain": [1995.733, 2004.852], "nice": false, "zero": false}, "title": "Year"},
        "y": {"field": "v", "type": "quantitative", "scale": {"domain": [-0.176, 0.1625], "nice": false, "zero": false}, "title": "North displacement relative to North America (m)"},
        "text": {"field": "name"}
      }
    },
    {
      "data": {"values": [{"v": 0.1625}]},
      "mark": {"type": "rule", "color": "#555", "strokeWidth": 2.5},
      "encoding": {
        "y": {"field": "v", "type": "quantitative", "scale": {"domain": [-0.176, 0.1625], "nice": false, "zero": false}, "title": "North displacement relative to North America (m)"}
      }
    }
  ]
}
